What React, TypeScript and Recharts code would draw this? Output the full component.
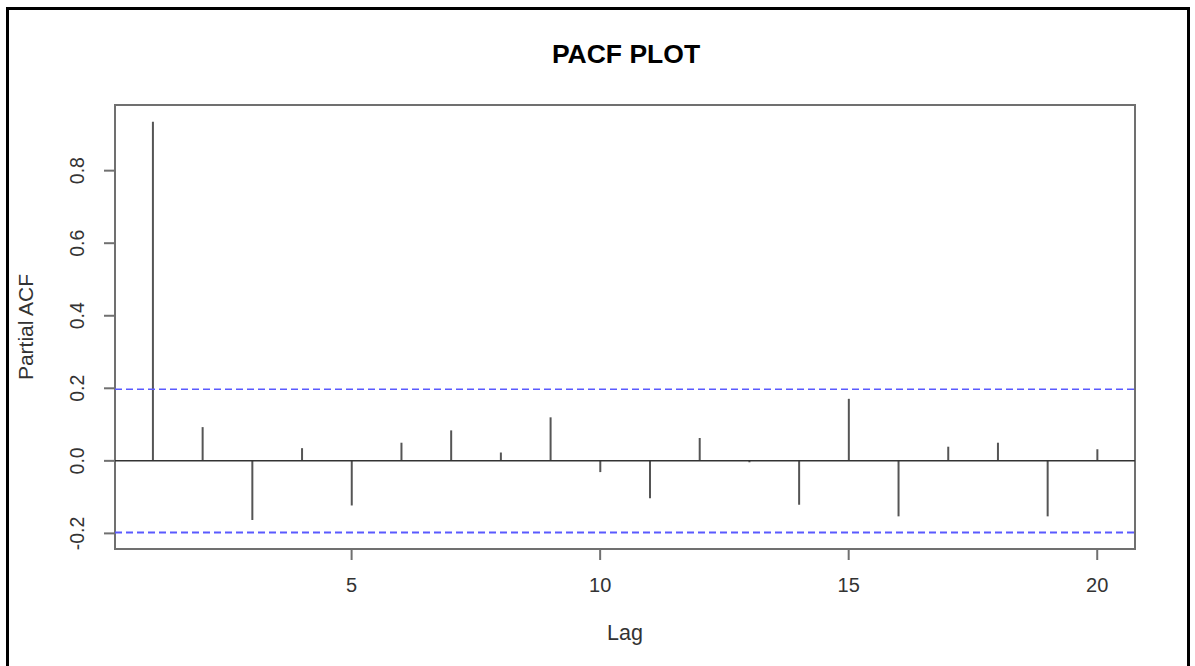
import { Bar, ComposedChart, Label, ReferenceArea, ReferenceLine, XAxis, YAxis } from 'recharts';

// PACF values
const lags = [1, 2, 3, 4, 5, 6, 7, 8, 9, 10, 11, 12, 13, 14, 15, 16, 17, 18, 19, 20];
const pacf = [
  0.935, 0.093, -0.163, 0.035, -0.123, 0.05, 0.084, 0.023, 0.12, -0.031, -0.103, 0.063, -0.004,
  -0.121, 0.171, -0.153, 0.039, 0.05, -0.153, 0.032,
];
const confLimit = 0.1976;
const xTicks = [5, 10, 15, 20];
const yTicks = [-0.2, 0, 0.2, 0.4, 0.6, 0.8];
const xDomain: [number, number] = [0.24, 20.76];
const yDomain: [number, number] = [-0.243, 0.981];

const data = lags.map((lag, i) => ({ lag, pacf: pacf[i] }));

const FONT = '"Liberation Sans", Arial, sans-serif';

function YTick(props: any) {
  const { x, y, payload } = props;
  return (
    <text
      x={x}
      y={y}
      transform={`rotate(-90, ${x}, ${y})`}
      textAnchor="middle"
      dominantBaseline="central"
      fontFamily={FONT}
      fontSize={19.5}
      fill="#333"
    >
      {payload.value.toFixed(1)}
    </text>
  );
}

function XTick(props: any) {
  const { x, y, payload } = props;
  return (
    <text x={x} y={y} textAnchor="middle" dominantBaseline="central" fontFamily={FONT} fontSize={20} fill="#333">
      {payload.value}
    </text>
  );
}

export default function App() {
  return (
    <div style={{ position: 'fixed', left: 0, top: 0, width: 1195, height: 666, overflow: 'hidden', background: '#fff' }}>
      <div
        style={{
          position: 'absolute',
          left: 6,
          top: 7,
          width: 1184,
          height: 720,
          border: '3px solid #000',
          boxSizing: 'border-box',
        }}
      />
      <div
        style={{
          position: 'absolute',
          left: 0,
          width: 1252,
          top: 39,
          textAlign: 'center',
          fontFamily: FONT,
          fontWeight: 'bold',
          fontSize: 26.5,
          color: '#000',
        }}
      >
        PACF PLOT
      </div>
      <div style={{ position: 'absolute', left: 0, top: 0 }}>
        <ComposedChart width={1195} height={666} data={data} margin={{ top: 105, right: 60, left: 25, bottom: 27 }}>
          <ReferenceArea
            x1={xDomain[0]}
            x2={xDomain[1]}
            y1={yDomain[0]}
            y2={yDomain[1]}
            fill="none"
            stroke="#707070"
            strokeWidth={2}
            ifOverflow="visible"
          />
          <XAxis
            dataKey="lag"
            type="number"
            domain={xDomain}
            allowDataOverflow
            ticks={xTicks}
            height={90}
            axisLine={false}
            tickSize={11}
            tickMargin={25}
            tickLine={{ stroke: '#707070', strokeWidth: 2 }}
            tick={<XTick />}
          >
            <Label
              content={({ viewBox }: any) => (
                <text
                  x={viewBox.x + viewBox.width / 2}
                  y={633}
                  textAnchor="middle"
                  dominantBaseline="central"
                  fontFamily={FONT}
                  fontSize={21.5}
                  fill="#333"
                >
                  Lag
                </text>
              )}
            />
          </XAxis>
          <YAxis
            type="number"
            domain={yDomain}
            allowDataOverflow
            ticks={yTicks}
            width={90}
            axisLine={false}
            tickSize={11}
            tickMargin={27}
            tickLine={{ stroke: '#707070', strokeWidth: 2 }}
            tick={<YTick />}
          >
            <Label
              content={({ viewBox }: any) => {
                const cx = 25;
                const cy = viewBox.y + viewBox.height / 2;
                return (
                  <text
                    x={cx}
                    y={cy}
                    transform={`rotate(-90, ${cx}, ${cy})`}
                    textAnchor="middle"
                    dominantBaseline="central"
                    fontFamily={FONT}
                    fontSize={21}
                    fill="#333"
                  >
                    Partial ACF
                  </text>
                );
              }}
            />
          </YAxis>
          <ReferenceLine y={0} stroke="#333" strokeWidth={1.5} />
          <ReferenceLine y={confLimit} stroke="#5a5aff" strokeWidth={1.5} strokeDasharray="7 4" />
          <ReferenceLine y={-confLimit} stroke="#5a5aff" strokeWidth={2} strokeDasharray="7 4" />
          <Bar dataKey="pacf" barSize={2} fill="#555" isAnimationActive={false} />
        </ComposedChart>
      </div>
    </div>
  );
}
